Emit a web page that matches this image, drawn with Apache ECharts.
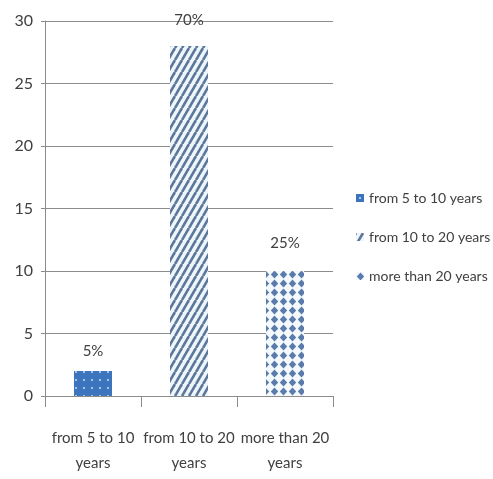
<!DOCTYPE html>
<html><head><meta charset="utf-8">
<script src="https://cdn.jsdelivr.net/npm/echarts@6/dist/echarts.min.js"></script>
<style>html,body{margin:0;padding:0;background:#fff}#c{width:493px;height:479px}</style>
</head><body><div id="c"></div>
<script>
var categories = ['from 5 to 10 years', 'from 10 to 20 years', 'more than 20 years'];
var categoryLabels = ['from 5 to 10\nyears', 'from 10 to 20\nyears', 'more than 20\nyears'];
var values = [2, 28, 10];
var percentLabels = ['5%', '70%', '25%'];
var yTicks = [0, 5, 10, 15, 20, 25, 30];

function mk(w, h, draw) { var c = document.createElement('canvas'); c.width = w; c.height = h; draw(c.getContext('2d')); return c; }
var dotPat = mk(8, 8, function (g) {
  g.fillStyle = '#3c74bd'; g.fillRect(0, 0, 8, 8);
  g.fillStyle = '#a9c6ea'; g.fillRect(3, 3, 2, 2);
});
var stripePat = mk(7, 12, function (g) {
  g.fillStyle = '#eef6fc'; g.fillRect(0, 0, 7, 12);
  g.strokeStyle = '#5b7699'; g.lineWidth = 2.6;
  for (var k = -1; k <= 1; k++) { g.beginPath(); g.moveTo(k * 7, 12); g.lineTo(k * 7 + 7, 0); g.stroke(); }
});
var diamondPat = mk(9, 9, function (g) {
  g.fillStyle = '#f4f9fd'; g.fillRect(0, 0, 9, 9);
  g.fillStyle = '#5b7cab';
  g.beginPath(); g.moveTo(4.5, 0.5); g.lineTo(8.2, 4.5); g.lineTo(4.5, 8.5); g.lineTo(0.8, 4.5); g.closePath(); g.fill();
});
var pats = [dotPat, stripePat, diamondPat];

var font = 'Lato';
var series = categories.map(function (name, i) {
  var d = categories.map(function (_, j) { return j === i ? values[i] : '-'; });
  return {
    name: name, type: 'bar', data: d, barWidth: 38, barGap: '-100%',
    itemStyle: { color: { image: pats[i], repeat: 'repeat' } },
    label: { show: true, position: 'top', distance: [12, 18, 20][i], formatter: function () { return percentLabels[i]; },
      fontFamily: font, fontSize: 15, color: '#404040' }
  };
});

var chart = echarts.init(document.getElementById('c'));
chart.setOption({
  animation: false,
  grid: { left: 45, right: 160, top: 21, bottom: 83 },
  legend: {
    orient: 'vertical', left: 351, top: 186, itemGap: 25, itemWidth: 8, itemHeight: 8,
    icon: 'rect', data: categories,
    textStyle: { fontFamily: font, fontSize: 14, color: '#404040' }
  },
  xAxis: {
    type: 'category', data: categories,
    axisLine: { lineStyle: { color: '#8c8c8c', width: 1 } },
    axisTick: { show: true, length: 11, lineStyle: { color: '#8c8c8c' } },
    axisLabel: { interval: 0, formatter: function (v, idx) { return categoryLabels[idx]; },
      fontFamily: font, fontSize: 15, color: '#404040', lineHeight: 25, margin: 30 }
  },
  yAxis: {
    type: 'value', min: yTicks[0], max: yTicks[yTicks.length - 1], interval: 5,
    axisLine: { show: true, lineStyle: { color: '#8c8c8c' } },
    axisTick: { show: true, length: 4, lineStyle: { color: '#8c8c8c' } },
    splitLine: { lineStyle: { color: '#8c8c8c' } },
    axisLabel: { fontFamily: font, fontSize: 16, color: '#404040', margin: 12 }
  },
  series: series
});
</script></body></html>
